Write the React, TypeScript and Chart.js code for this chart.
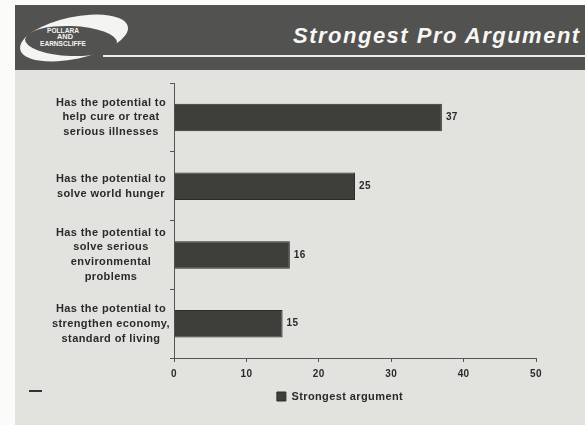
import React, { useEffect, useRef } from "react";
import { Chart, registerables } from "chart.js";

Chart.register(...registerables);

const categories: string[][] = [
  ["Has the potential to", "help cure or treat", "serious illnesses"],
  ["Has the potential to", "solve world hunger"],
  ["Has the potential to", "solve serious", "environmental", "problems"],
  ["Has the potential to", "strengthen economy,", "standard of living"],
];
const strongestArgument: number[] = [37, 25, 16, 15];
const seriesName = "Strongest argument";
const title = "Strongest Pro Argument";
const logoLines: string[] = ["POLLARA", "AND", "EARNSCLIFFE"];

const FONT = "'Liberation Sans', Arial, sans-serif";
const INK = "#2a2a2a";
const BAR = "#3e3f3b";
const PAGE = "#e2e2df";
const TRACKING = "0.4px";

// Slightly open letter spacing for all chart text (set before measuring and drawing).
const tracking = {
  id: "tracking",
  beforeLayout(chart: any) {
    (chart.ctx as any).letterSpacing = TRACKING;
  },
  beforeDraw(chart: any) {
    (chart.ctx as any).letterSpacing = TRACKING;
  },
};

// Writes each bar's value just past its end.
const valueLabels = {
  id: "valueLabels",
  afterDatasetsDraw(chart: any) {
    const ctx = chart.ctx;
    const meta = chart.getDatasetMeta(0);
    const data = chart.data.datasets[0].data as number[];
    ctx.save();
    ctx.font = `bold 10px ${FONT}`;
    ctx.fillStyle = INK;
    ctx.textAlign = "left";
    ctx.textBaseline = "middle";
    meta.data.forEach((bar: any, i: number) => {
      ctx.fillText(String(data[i]), bar.x + 4, bar.y);
    });
    ctx.restore();
  },
};

// Nudges the legend a little left of the plot's centre line.
const legendShift = {
  id: "legendShift",
  afterLayout(chart: any) {
    const lg = chart.legend;
    if (!lg) return;
    lg.left -= 15;
    lg.right -= 15;
  },
};

function BarChart() {
  const ref = useRef<HTMLCanvasElement | null>(null);
  useEffect(() => {
    if (!ref.current) return;
    const chart = new Chart(ref.current, {
      type: "bar",
      data: {
        labels: categories,
        datasets: [
          {
            label: seriesName,
            data: strongestArgument,
            backgroundColor: BAR,
            borderColor: "#2c2d2a",
            borderWidth: 1,
            barPercentage: 0.8,
            categoryPercentage: 0.5,
          },
        ],
      },
      options: {
        indexAxis: "y",
        responsive: false,
        animation: false,
        layout: { padding: { left: 0, right: 49, top: 13, bottom: 13 } },
        plugins: {
          tooltip: { enabled: false },
          legend: {
            position: "bottom",
            fullSize: false,
            labels: {
              boxWidth: 9,
              boxHeight: 9,
              color: INK,
              font: { family: FONT, size: 11, weight: "bold" },
            },
          },
        },
        scales: {
          x: {
            min: 0,
            max: 50,
            ticks: {
              stepSize: 10,
              color: INK,
              padding: 6,
              font: { family: FONT, size: 10, weight: "bold" },
            },
            grid: { drawOnChartArea: false, tickLength: 4, color: "#555" },
            border: { color: "#555", width: 1 },
            afterFit: (scale: any) => {
              scale.height = 23;
            },
          },
          y: {
            ticks: {
              color: INK,
              crossAlign: "center",
              padding: 0,
              font: { family: FONT, size: 11, weight: "bold", lineHeight: 1.35 },
            },
            grid: { drawOnChartArea: false, tickLength: 4, color: "#555" },
            border: { color: "#555", width: 1 },
            afterFit: (scale: any) => {
              scale.width = 159;
              scale.paddingTop = 0;
              scale.paddingBottom = 0;
            },
          },
        },
      },
      plugins: [tracking, valueLabels, legendShift],
    });
    return () => chart.destroy();
  }, []);
  return (
    <canvas
      ref={ref}
      width={570}
      height={355}
      style={{ position: "absolute", left: 15, top: 70, width: 570, height: 355 }}
    />
  );
}

function Logo() {
  return (
    <svg
      width={130}
      height={65}
      viewBox="0 0 130 65"
      style={{ position: "absolute", left: 0, top: 0 }}
    >
      <ellipse
        cx={59}
        cy={33}
        rx={55}
        ry={21}
        fill="#f4f4f2"
        transform="rotate(-12 59 33)"
      />
      <ellipse
        cx={56}
        cy={36}
        rx={46}
        ry={15}
        fill="#525250"
        transform="rotate(2 56 36)"
      />
      <g fill="#f4f4f2" fontFamily={FONT} fontWeight="bold" fontSize={7.5}>
        <text x={32} y={28} textLength={32} lengthAdjust="spacingAndGlyphs">
          {logoLines[0]}
        </text>
        <text x={42} y={34} textLength={16} lengthAdjust="spacingAndGlyphs">
          {logoLines[1]}
        </text>
        <text x={25} y={40.5} textLength={46} lengthAdjust="spacingAndGlyphs">
          {logoLines[2]}
        </text>
      </g>
    </svg>
  );
}

export default function App() {
  return (
    <div
      style={{
        position: "fixed",
        left: 0,
        top: 0,
        width: 585,
        height: 425,
        background: "#fbfbfa",
        overflow: "hidden",
      }}
    >
      <div
        style={{
          position: "absolute",
          left: 15,
          top: 5,
          width: 570,
          height: 420,
          background: PAGE,
        }}
      />
      <div
        style={{
          position: "absolute",
          left: 15,
          top: 5,
          width: 570,
          height: 65,
          background: "#525250",
          overflow: "hidden",
        }}
      >
        <Logo />
        <div
          style={{
            position: "absolute",
            left: 88,
            top: 50,
            width: 490,
            height: 2,
            background: "#eeeeec",
          }}
        />
        <div
          style={{
            position: "absolute",
            left: 278,
            top: 18,
            fontFamily: FONT,
            fontWeight: "bold",
            fontStyle: "italic",
            fontSize: 22,
            letterSpacing: 1.5,
            color: "#f7f7f5",
            whiteSpace: "nowrap",
            lineHeight: "26px",
          }}
        >
          {title}
        </div>
      </div>
      <BarChart />
      <div
        style={{
          position: "absolute",
          left: 29,
          top: 390,
          width: 13,
          height: 2,
          background: "#333",
        }}
      />
    </div>
  );
}
